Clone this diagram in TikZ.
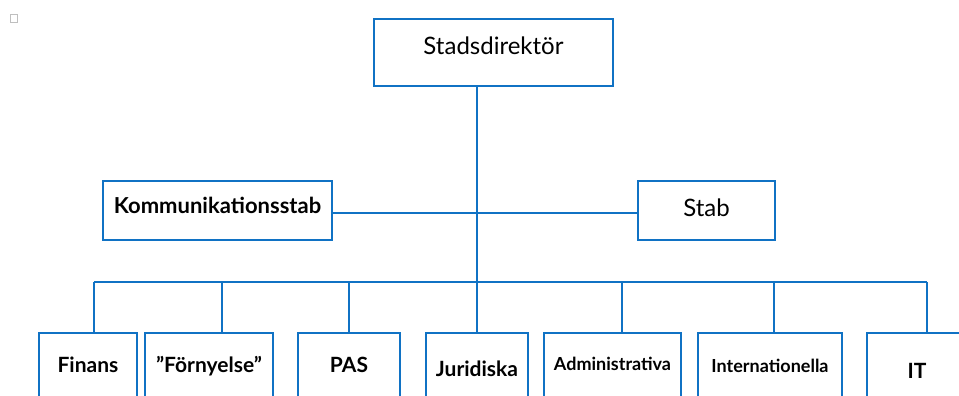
\documentclass[tikz,border=0pt]{standalone}
\usepackage{fontspec}
\setmainfont{Lato}
\usetikzlibrary{positioning}
\definecolor{orgblue}{RGB}{16,114,196}
\def\link{\draw[orgblue, line width=1.6pt]}

\begin{document}
\begin{tikzpicture}[x=1pt, y=-1pt,
    unit/.style={draw=orgblue, line width=1.6pt, fill=white, inner sep=0pt, align=center},
    dept/.style={unit, minimum height=67pt, text height=39pt, text depth=28pt,
      font=\fontsize{21}{25}\selectfont\bfseries},
    small/.style={font=\fontsize{18}{22}\selectfont\bfseries}]
  \useasboundingbox (0,0) rectangle (959,396);
  \clip (0,0) rectangle (959,396);

  \node [draw=black!25, line width=0.6pt, minimum width=7pt, minimum height=8pt, inner sep=0pt] (tick) at (14,18.5) {};

  \node [unit, minimum width=239pt, text height=36pt, text depth=31pt,
    font=\fontsize{24}{28}\selectfont] (dir) at (493.5,52.5) {Stadsdirektör};
  \node [unit, minimum width=229pt, text height=32pt, text depth=27pt,
    font=\fontsize{22}{26}\selectfont\bfseries] (komm) at (217.5,210.5) {Kommunikationsstab};
  \node [unit, minimum width=137pt, text height=35pt, text depth=24pt,
    font=\fontsize{24}{28}\selectfont] (stab) at (706.5,210.5) {Stab};

  \node [dept, minimum width=98pt] (fin) at (88,366.5) {Finans};
  \node [dept, minimum width=128pt] (forn) at (209,366.5) {”Förnyelse”};
  \node [dept, minimum width=102pt] (pas) at (349,366.5) {PAS};
  \node [dept, minimum width=102pt, text height=43pt, text depth=24pt] (jur) at (477,366.5) {Juridiska};
  \node [dept, small, minimum width=137pt, text height=37pt, text depth=30pt] (adm) at (612.5,366.5) {Administrativa};
  \node [dept, small, minimum width=144pt] (intl) at (770,366.5) {Internationella};
  \node [dept, minimum width=100pt, text height=45pt, text depth=22pt] (it) at (917,366.5) {IT};

  \coordinate (mid) at (477,213);
  \coordinate (b1) at (94,282);
  \coordinate (b2) at (222,282);
  \coordinate (b3) at (349,282);
  \coordinate (b4) at (477,282);
  \coordinate (b5) at (622,282);
  \coordinate (b6) at (774,282);
  \coordinate (b7) at (927,282);

  \link (b4 |- dir.south) -- (b4);
  \link (komm.east |- mid) -- (stab.west |- mid);
  \link (b1) -- (b7);
  \link (b1) -- (b1 |- fin.north);
  \link (b2) -- (b2 |- forn.north);
  \link (b3) -- (b3 |- pas.north);
  \link (b4) -- (b4 |- jur.north);
  \link (b5) -- (b5 |- adm.north);
  \link (b6) -- (b6 |- intl.north);
  \link (b7) -- (b7 |- it.north);
\end{tikzpicture}
\end{document}
